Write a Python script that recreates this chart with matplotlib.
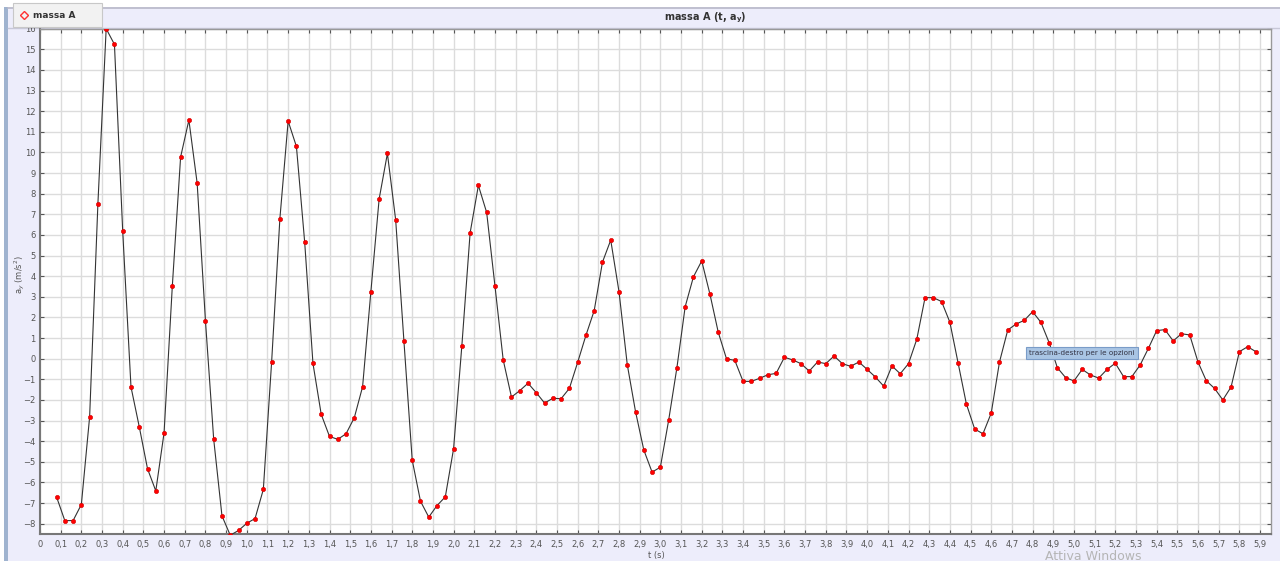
import numpy as np
import matplotlib.pyplot as plt
from matplotlib.patches import Rectangle
from matplotlib.lines import Line2D

# campioni ogni 0,04 s da 0,08 a 5,88 s
t = np.round(np.arange(0.08, 5.8801, 0.04), 2)
ay = [
    -6.70, -7.85, -7.85, -7.07, -2.82, 7.51, 16.00, 15.24, 6.17, -1.37,
    -3.30, -5.34, -6.41, -3.59, 3.54, 9.78, 11.57, 8.51, 1.85, -3.91,
    -7.62, -8.56, -8.33, -7.98, -7.75, -6.34, -0.18, 6.78, 11.52, 10.29,
    5.65, -0.23, -2.70, -3.77, -3.91, -3.64, -2.86, -1.36, 3.24, 7.74,
    9.95, 6.73, 0.84, -4.92, -6.91, -7.68, -7.12, -6.70, -4.37, 0.62,
    6.10, 8.40, 7.09, 3.54, -0.06, -1.86, -1.55, -1.19, -1.65, -2.15,
    -1.92, -1.94, -1.44, -0.18, 1.13, 2.33, 4.68, 5.75, 3.25, -0.29,
    -2.57, -4.43, -5.50, -5.26, -2.99, -0.44, 2.52, 3.97, 4.74, 3.12,
    1.28, -0.01, -0.08, -1.10, -1.10, -0.95, -0.78, -0.71, 0.07, -0.06,
    -0.24, -0.60, -0.16, -0.24, 0.13, -0.24, -0.37, -0.16, -0.52, -0.89,
    -1.33, -0.35, -0.73, -0.24, 0.94, 2.96, 2.96, 2.77, 1.77, -0.22,
    -2.20, -3.41, -3.64, -2.64, -0.16, 1.39, 1.68, 1.86, 2.28, 1.77,
    0.78, -0.44, -0.92, -1.08, -0.52, -0.79, -0.94, -0.52, -0.22, -0.87,
    -0.87, -0.31, 0.50, 1.36, 1.41, 0.86, 1.21, 1.15, -0.16, -1.07,
    -1.44, -2.00, -1.37, 0.34, 0.58, 0.34,
]
x_ticks = np.round(np.arange(0, 5.91, 0.1), 1)
x_labels = ["0"] + [f"{v:.1f}".replace(".", ",") for v in x_ticks[1:]]
y_ticks = np.arange(-8, 17, 1)

W, H = 1280, 561
fig = plt.figure(figsize=(W / 100, H / 100), dpi=100)
fig.patch.set_facecolor("white")

# pannello lavanda e barra del titolo (dietro agli assi)
lav = "#EDEDFB"
fig.patches.append(Rectangle((8 / W, 0), 1, 1 - 7 / H, transform=fig.transFigure,
                             facecolor=lav, edgecolor="none", zorder=-2))
fig.patches.append(Rectangle((4 / W, 0), 4 / W, 1 - 7 / H, transform=fig.transFigure,
                             facecolor="#9FB3CF", edgecolor="none", zorder=-2))
fig.lines.append(Line2D([8 / W, 1], [1 - 7.5 / H, 1 - 7.5 / H], transform=fig.transFigure,
                        color="#B8B8C8", lw=1.2, zorder=-1))
fig.lines.append(Line2D([8 / W, 1], [1 - 27.5 / H, 1 - 27.5 / H], transform=fig.transFigure,
                        color="#C8C8D8", lw=1, zorder=-1))

ax = fig.add_axes([40 / W, 1 - 534 / H, (1271 - 40) / W, (534 - 28.7) / H])
ax.set_zorder(1)
ax.set_facecolor("white")
ax.set_xlim(0, 5.953)
ax.set_ylim(-8.5, 16)

ax.plot(t, ay, color="#333333", lw=0.8, zorder=3)
ax.plot(t, ay, ls="none", marker="o", ms=3.1, mfc="#FF0000", mec="#D00000", mew=0.4, zorder=4)

ax.set_xticks(x_ticks)
ax.set_xticklabels(x_labels)
ax.set_yticks(y_ticks)
ax.grid(True, color="#DCDCDC", lw=1)
ax.set_axisbelow(True)
ax.tick_params(axis="both", labelsize=6, colors="#555555", length=3, width=0.8,
               direction="in", top=True, right=True, pad=3)
ax.tick_params(axis="x", pad=4)
for s in ax.spines.values():
    s.set_color("#999999")
    s.set_linewidth(1)
ax.spines["bottom"].set_color("#777777")
ax.spines["bottom"].set_linewidth(1.5)
ax.spines["left"].set_color("#777777")
ax.spines["left"].set_linewidth(1.5)

fig.text(656 / W, 1 - 555.5 / H, "t (s)", fontsize=6, color="#555555", ha="center", va="center")
fig.text(20 / W, 1 - 275 / H, "a$_y$ (m/s$^2$)", fontsize=6, color="#555555",
         rotation=90, ha="center", va="center")
fig.text(705 / W, 1 - 18 / H, "massa A (t, a$_\\mathbf{y}$)", fontsize=7, fontweight="bold",
         color="#333333", ha="center", va="center")

# legenda in alto a sinistra
fig.patches.append(Rectangle((13 / W, 1 - 27 / H), 89 / W, 24 / H, transform=fig.transFigure,
                             facecolor="#F2F2F2", edgecolor="#C8C8C8", lw=0.8, zorder=5))
fig.lines.append(Line2D([24 / W], [1 - 15 / H], transform=fig.transFigure, marker="D",
                        ms=4.5, mfc="none", mec="#FF3030", mew=1, zorder=6))
fig.text(33 / W, 1 - 15 / H, "massa A", fontsize=6.5, fontweight="bold", color="#333333",
         va="center", zorder=6)

# suggerimento
fig.patches.append(Rectangle((1026 / W, 1 - 358.5 / H), 112 / W, 12 / H, transform=fig.transFigure,
                             facecolor="#A9C5E4", edgecolor="#7A9CC8", lw=0.8, zorder=5))
fig.text(1082 / W, 1 - 352.5 / H, "trascina-destro per le opzioni", fontsize=5.2,
         color="#333344", ha="center", va="center", zorder=6)

fig.text(1093 / W, 1 - 556 / H, "Attiva Windows", fontsize=9, color="#B5B5B5",
         ha="center", va="center", zorder=6)

fig.savefig("out.png", dpi=100)
